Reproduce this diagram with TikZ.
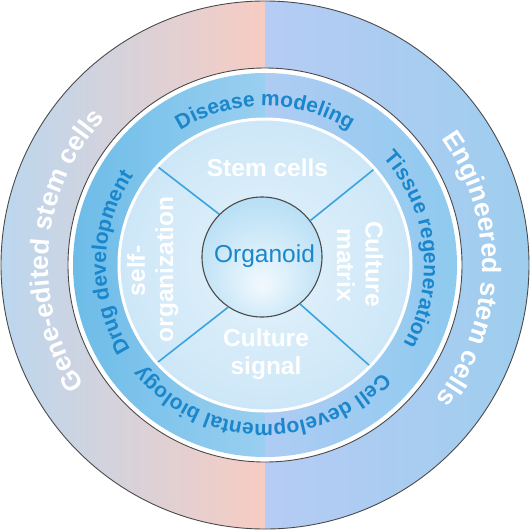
\documentclass[tikz,border=0pt]{standalone}
\usepackage{fontspec}
\setmainfont{Liberation Sans}
\usetikzlibrary{decorations.text}
\definecolor{oL}{HTML}{BBD7EF}
\definecolor{oC1}{HTML}{F7CCC2}
\definecolor{oC2}{HTML}{B6CCF4}
\definecolor{oR}{HTML}{9ECDEE}
\definecolor{mL}{HTML}{6CBCE8}
\definecolor{mC1}{HTML}{9ACFF0}
\definecolor{mC2}{HTML}{AFCCF3}
\definecolor{mR}{HTML}{8ECAEF}
\definecolor{discin}{HTML}{E4F2FB}
\definecolor{discout}{HTML}{B6DCF4}
\definecolor{orgin}{HTML}{F2F9FE}
\definecolor{orgout}{HTML}{8FCDEE}
\definecolor{ringtext}{HTML}{1A86CC}
\definecolor{orgtext}{HTML}{1A87C9}
\definecolor{divline}{HTML}{3BA3DD}
\definecolor{edgegray}{HTML}{4A4A4A}
\pgfdeclareradialshading{discshade}{\pgfpoint{0bp}{0bp}}{color(0bp)=(discin); color(50bp)=(discout)}
\pgfdeclareradialshading{orgshade}{\pgfpoint{0bp}{-12bp}}{color(0bp)=(orgin); color(50bp)=(orgout)}
\newcommand\outerfnt{\fontsize{26.5}{26.5}\selectfont\bfseries}
\newcommand\midfnt{\fontsize{21}{21}\selectfont\bfseries}
\begin{document}
\begin{tikzpicture}[x=1pt,y=1pt,
  sectortxt/.style={text=white, font=\fontsize{24.5}{24.5}\selectfont\bfseries, inner sep=0pt},
  divider/.style={draw=divline, line width=1.6pt},
  outertxt/.style={decorate, decoration={text along path, text align=center, text color=white}},
  midtxt/.style={decorate, decoration={text along path, text align=center, text color=ringtext}}]
\useasboundingbox (-265,-266) rectangle (267,265);
\fill[white] (-265,-266) rectangle (267,265);
% outer ring
\begin{scope}
\clip (0,0) circle[radius=264];
\shade[left color=oL, right color=oC1] (-265,-265) rectangle (0,265);
\shade[left color=oC2, right color=oR] (0,-265) rectangle (265,265);
\end{scope}
\draw[edgegray, line width=0.9pt] (0,0) circle[radius=264];
\filldraw[fill=white, draw=edgegray, line width=0.9pt] (0,0) circle[radius=197];
% middle ring
\begin{scope}
\clip (0,0) circle[radius=192];
\shade[left color=mL, right color=mC1] (-193,-193) rectangle (0,193);
\shade[left color=mC2, right color=mR] (0,-193) rectangle (193,193);
\end{scope}
% inner disc
\shade[shading=discshade] (0,0) circle[radius=146];
% central circle
\node[circle, shade, shading=orgshade, draw=edgegray, line width=1.1pt, minimum size=120pt, inner sep=0pt] (org) at (-3,8) {};
\node[anchor=base, text=orgtext, font=\fontsize{24.5}{24.5}\selectfont, inner sep=0pt] (orglabel) at (-0.5,3) {Organoid};
% dividers
\coordinate (ulo) at (137.5:145);
\coordinate (uro) at (41.3:145);
\coordinate (llo) at (222.2:145);
\coordinate (lro) at (-43.9:145);
\draw[divider] (ulo) -- (org.135);
\draw[divider] (uro) -- (org.37.6);
\draw[divider] (llo) -- (org.236);
\draw[divider] (lro) -- (org.-51);
\draw[white, line width=3pt] (0,0) circle[radius=146];
% sector texts
\node[sectortxt, anchor=base] (stem) at (2.5,89) {Stem cells};
\node[sectortxt, anchor=base] (sig1) at (1,-81) {Culture};
\node[sectortxt, anchor=base] (sig2) at (1,-109) {signal};
\node[sectortxt, anchor=base, rotate=90] (self1) at (-120,-6) {self-};
\node[sectortxt, anchor=base, rotate=90] (self2) at (-92,-4.5) {organization};
\node[sectortxt, anchor=base, rotate=-90] (mat1) at (100.5,1) {Culture};
\node[sectortxt, anchor=base, rotate=-90] (mat2) at (72,0) {matrix};
% middle ring texts
\path[midtxt, decoration={text={|\midfnt|Disease modeling}}] (150:159) arc[start angle=150, end angle=30, radius=159];
\path[midtxt, decoration={text={|\midfnt|Tissue regeneration}}] (66.3:159) arc[start angle=66.3, end angle=-53.7, radius=159];
\path[midtxt, decoration={text={|\midfnt|Cell developmental biology}}] (-21.5:159) arc[start angle=-21.5, end angle=-161.5, radius=159];
\path[midtxt, decoration={text={|\midfnt|Drug development}}] (239:159) arc[start angle=239, end angle=119, radius=159];
% outer ring texts
\path[outertxt, decoration={text={|\outerfnt|Gene-edited stem cells}}] (235.5:217) arc[start angle=235.5, end angle=115.5, radius=217];
\path[outertxt, decoration={text={|\outerfnt|Engineered stem cells}}] (58.8:217) arc[start angle=58.8, end angle=-61.2, radius=217];
\end{tikzpicture}
\end{document}
